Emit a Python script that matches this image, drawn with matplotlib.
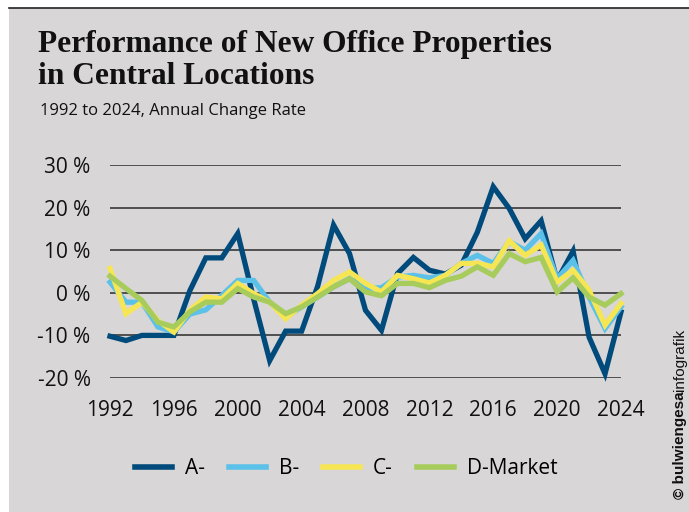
import matplotlib
matplotlib.use("Agg")
import matplotlib.pyplot as plt

# Annual change rate (%) of new office properties
years = list(range(1992, 2025))
a_cities = [-10.2, -11.2, -10, -10, -10, 0.5, 8.2, 8.2, 13.9, -1.5, -15.9, -9, -9,
            1.5, 15.9, 9.2, -4.1, -8.8, 4.5, 8.3, 5.3, 4.4, 6.5, 14.2, 24.9, 19.8,
            12.7, 16.9, 2.9, 9.8, -10.4, -19, -4.5]
b_cities = [2.5, -2.2, -2.2, -8, -9.2, -5, -4, -0.6, 2.9, 2.9, -2.2, -5.7, -3.3,
            -1, 1.4, 3.3, 1, 1.2, 3.7, 4.1, 3.5, 4.1, 6.9, 8.8, 6.9, 12, 10, 13.9,
            3.3, 7.6, -1, -8.4, -3.3]
c_cities = [5.7, -4.9, -2.2, -6.5, -9.2, -4.1, -1, -1.4, 2.2, -0.2, -2.2, -6.1, -2.9,
            -0.2, 2.9, 4.9, 2.2, 0.2, 4.1, 3.3, 2.3, 4.1, 6.9, 6.9, 6.1, 12.2, 8.8,
            11.2, 2.5, 5.3, 0.6, -7.6, -2.5]
d_market = [3.9, 1, -1.8, -6.9, -8, -4.5, -2.2, -2.2, 1, -1, -2.2, -4.9, -3.3, -1,
            1.4, 3.3, 0.2, -0.7, 2.2, 2.2, 1.2, 2.9, 3.9, 6.1, 4.1, 9.2, 7.3, 8.3,
            0.2, 3.5, -1, -2.9, -0.2]

series = [("A-", a_cities, "#004a7c"), ("B-", b_cities, "#5bc1e9"),
          ("C-", c_cities, "#f6e653"), ("D-Market", d_market, "#a8cc5c")]

y_ticks = [-20, -10, 0, 10, 20, 30]
y_labels = ["-20 %", "-10 %", "0 %", "10 %", "20 %", "30 %"]
x_ticks = list(range(1992, 2025, 4))

BG = "#d8d6d7"
fig = plt.figure(figsize=(6.89, 5.12), dpi=100, facecolor="white")

# grey panel with dark rule on top
fig.patches.append(plt.Rectangle((9 / 689, 0), 1 - 9 / 689, 1 - 8 / 512,
                                 transform=fig.transFigure, facecolor=BG,
                                 edgecolor="none", zorder=-5))
fig.add_artist(plt.Line2D([9 / 689, 1], [1 - 7.5 / 512] * 2, color="#222222", lw=1.2))

ax = fig.add_axes([110 / 689, 1 - 378 / 512, 511 / 689, 213 / 512])
ax.set_facecolor("none")

for i, (name, vals, col) in enumerate(series):
    ax.plot(years, vals, color=col, lw=3.8, label=name, zorder=3 + i,
            solid_joinstyle="miter", clip_on=False)

ax.set_xlim(1992, 2024)
ax.set_ylim(-20, 30)
ax.set_yticks(y_ticks)
ax.set_yticklabels(y_labels)
ax.set_xticks(x_ticks)
ax.yaxis.grid(True, color="#2a2a2a", lw=1.1)
ax.set_axisbelow(True)
for s in ax.spines.values():
    s.set_visible(False)
ax.tick_params(length=0, labelsize=15, colors="#111111")
ax.tick_params(axis="y", pad=14)
ax.tick_params(axis="x", pad=16)
for lab in ax.get_xticklabels() + ax.get_yticklabels():
    lab.set_fontfamily("Open Sans")

title_kw = dict(fontsize=22.6, fontweight="bold", family="Liberation Serif",
                color="#111111", va="baseline")
fig.text(38 / 689, 1 - 52 / 512, "Performance of New Office Properties", **title_kw)
fig.text(38 / 689, 1 - 84 / 512, "in Central Locations", **title_kw)
fig.text(40 / 689, 1 - 115 / 512, "1992 to 2024, Annual Change Rate",
         fontsize=12, family="Open Sans", color="#111111", va="baseline")

leg = fig.legend(loc="center", bbox_to_anchor=(346 / 689, 1 - 469 / 512), ncol=4,
                 frameon=False, handlelength=1.8, handletextpad=0.6,
                 columnspacing=1.15, prop={"family": "Open Sans", "size": 15})
for line in leg.get_lines():
    line.set_linewidth(4)

# vertical credit
fig.canvas.draw()
r = fig.canvas.get_renderer()
t1 = fig.text(680 / 689, 1 - 499 / 512, "\u00a9 bulwiengesa", rotation=90, fontsize=11,
              fontweight="bold", family="Liberation Sans", ha="center", va="bottom",
              color="#111111")
bb = t1.get_window_extent(r)
fig.text(680 / 689, bb.y1 / fig.bbox.height, "infografik", rotation=90, fontsize=11,
         family="Liberation Sans", ha="center", va="bottom", color="#111111")

fig.savefig("out.png", dpi=100, facecolor=fig.get_facecolor())
